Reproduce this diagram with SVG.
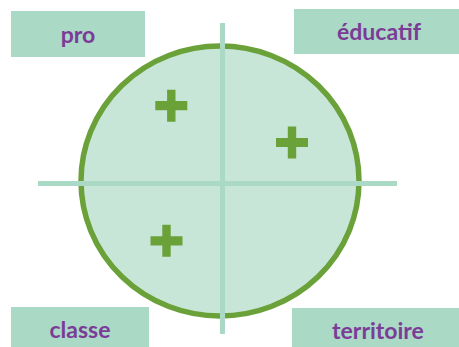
<svg xmlns="http://www.w3.org/2000/svg" width="459" height="347" viewBox="0 0 459 347">
<style>
.box{fill:#aad9c6}
.lbl{font-family:Lato,"Open Sans","Liberation Sans",sans-serif;font-weight:bold;font-size:23px;fill:#7b3c97;text-anchor:middle}
.axis{stroke:#aad9c6;stroke-width:5;fill:none}
.plus{fill:#6aa139}
</style>
<defs>
<path id="plus" d="M-4.2,-16 H4.2 V-4.6 H16 V4.6 H4.2 V16 H-4.2 V4.6 H-16 V-4.6 H-4.2 Z"/>
</defs>
<g id="circle">
<ellipse cx="220" cy="181" rx="139" ry="135" fill="#c8e6d8" stroke="#6aa139" stroke-width="5.5"/>
</g>
<g id="connectors">
<line class="axis" x1="38" y1="183.5" x2="397" y2="183.5"/>
<line class="axis" x1="222.5" y1="23" x2="222.5" y2="334"/>
</g>
<g id="plus1"><use href="#plus" class="plus" x="171.3" y="105.7"/></g>
<g id="plus2"><use href="#plus" class="plus" x="292" y="142.5"/></g>
<g id="plus3"><use href="#plus" class="plus" x="166.5" y="240.8"/></g>
<g id="pro"><rect class="box" x="11" y="11" width="134" height="46"/><text class="lbl" x="78" y="43">pro</text></g>
<g id="educatif"><rect class="box" x="294" y="9" width="165" height="45"/><text class="lbl" x="379" y="40">éducatif</text></g>
<g id="classe"><rect class="box" x="11" y="307" width="138" height="40"/><text class="lbl" x="80" y="338">classe</text></g>
<g id="territoire"><rect class="box" x="292" y="308" width="167" height="39"/><text class="lbl" x="378" y="339">territoire</text></g>
</svg>
